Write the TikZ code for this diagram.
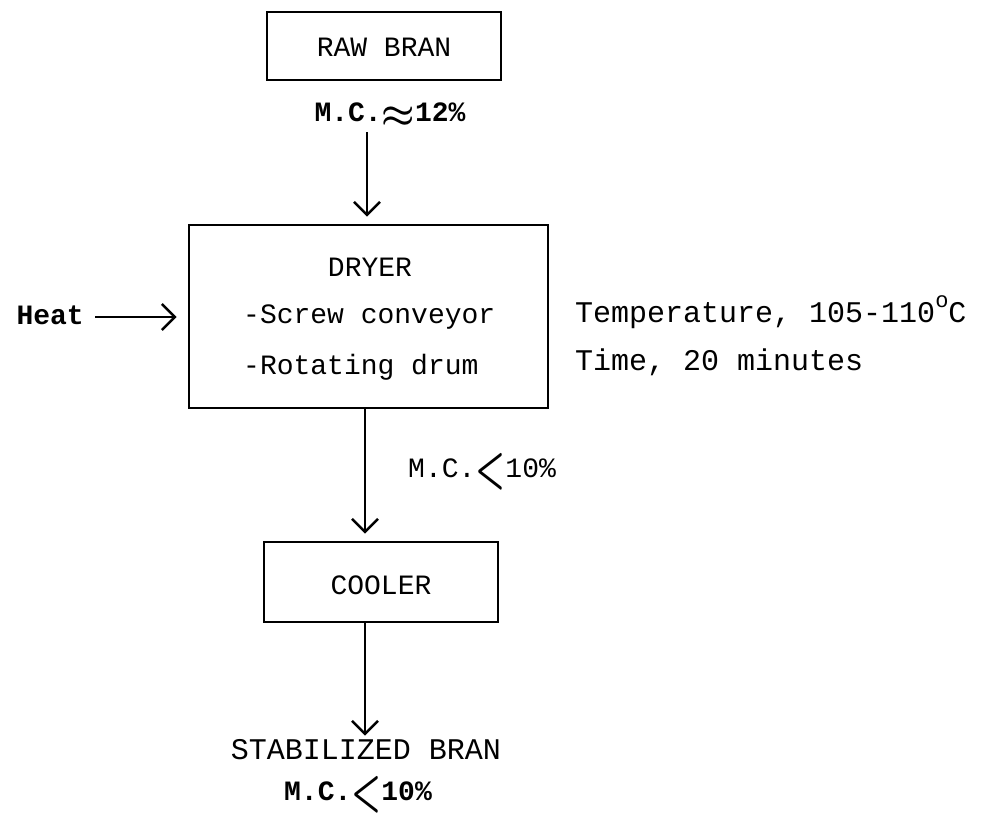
\documentclass[tikz,border=0pt]{standalone}
\usepackage{fontspec}
\usepackage{graphicx}
\setmainfont{Liberation Mono}
\usetikzlibrary{arrows.meta}
\tikzset{
  box/.style={draw, line width=2.8pt, inner sep=0pt},
  flow/.style={line width=2.5pt, -{Straight Barb[length=13pt,width=26pt,line width=2.5pt]}, shorten >=7pt},
  txt/.style={inner sep=0pt, font=\fontsize{28}{28}\selectfont},
  big/.style={inner sep=0pt, font=\fontsize{30}{30}\selectfont},
  bold/.style={inner sep=0pt, font=\fontsize{28}{28}\selectfont\bfseries}
}
\newcommand{\ltsym}{\raisebox{-0.3em}{\scalebox{1.35}[2.2]{\boldmath$<$}}}
\begin{document}
\begin{tikzpicture}[x=1pt,y=-1pt]
\useasboundingbox (0,0) rectangle (982,822);
% boxes
\node[box, minimum width=234pt, minimum height=68pt] (raw) at (384,46) {};
\node[txt] (rawt) at (384,47) {RAW BRAN};
\node[bold] (mc1) at (390,115) {M.C.\raisebox{-0.15em}{\scalebox{1.5}{\boldmath$\approx$}}12\%};
\node[box, minimum width=359pt, minimum height=183pt] (dryer) at (368.5,316.5) {};
\node[txt] (dryt) at (370,267) {DRYER};
\node[txt, anchor=west] (screw) at (243,317) {-Screw conveyor};
\node[txt, anchor=west] (rot) at (243,367) {-Rotating drum};
\node[bold, anchor=east] (heat) at (84,315) {Heat};
\node[big, anchor=west] (temp) at (575,312) {Temperature, 105-110\raisebox{0.5em}{\fontsize{22}{22}\selectfont o}C};
\node[big, anchor=west] (time) at (575,362) {Time, 20 minutes};
\node[txt, anchor=west] (mc2) at (408,472) {M.C.\ltsym10\%};
\node[box, minimum width=234pt, minimum height=80pt] (cooler) at (381,582) {};
\node[txt] (coolt) at (381,585) {COOLER};
\node[big] (stab) at (366,750) {STABILIZED BRAN};
\node[bold] (mc3) at (358,795) {M.C.\ltsym10\%};
% connectors
\coordinate (a1) at (367,132);
\draw[flow] (a1) -- (a1 |- dryer.north);
\coordinate (h1) at (95,317);
\draw[flow, shorten >=11pt] (h1) -- (h1 -| dryer.west);
\coordinate (a2) at (365,408);
\draw[flow] (a2) -- (a2 |- cooler.north);
\coordinate (a3) at (365,622);
\draw[flow, shorten >=4pt] (a3) -- (a3 |- stab.north);
\end{tikzpicture}
\end{document}
